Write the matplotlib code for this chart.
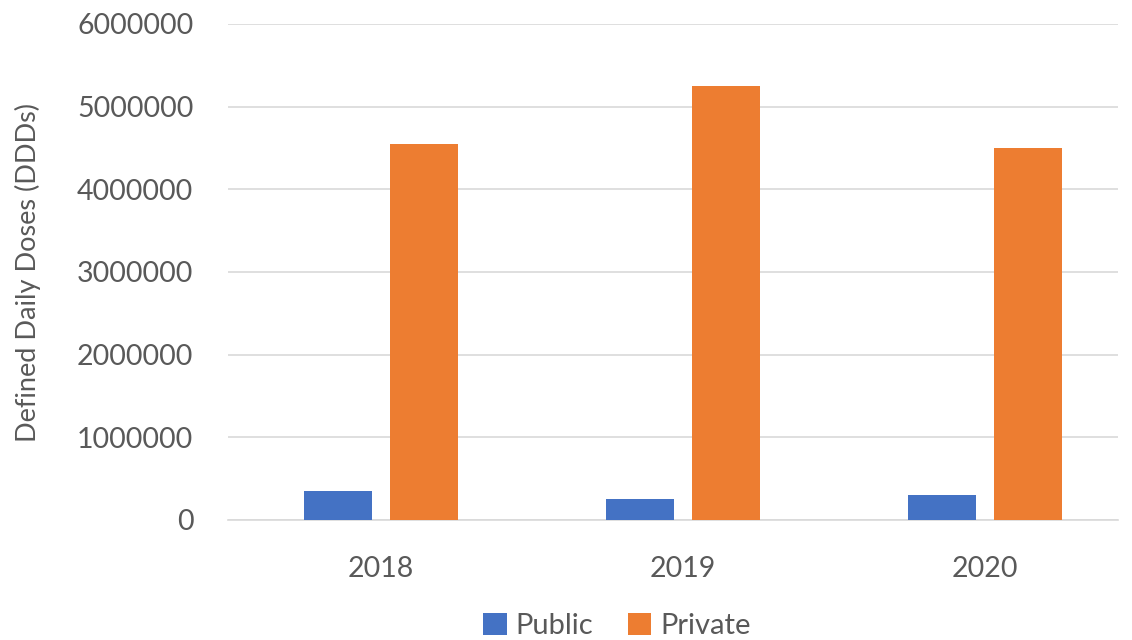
import numpy as np
import matplotlib.pyplot as plt

years = ["2018", "2019", "2020"]
public = [351000, 254000, 302000]
private = [4548000, 5250000, 4500000]

plt.rcParams['font.family'] = ['Lato', 'DejaVu Sans']
grey = "#595959"

fig = plt.figure(figsize=(11.32, 6.4), dpi=100)
ax = fig.add_axes([0.2015, 0.1875, 0.786, 0.775])

x = np.arange(len(years))
w = 0.225
ax.bar(x - 0.142, public, w, color="#4472C4", label="Public", zorder=3)
ax.bar(x + 0.142, private, w, color="#ED7D31", label="Private", zorder=3)

ax.set_xlim(-0.507, 2.44)
ax.set_ylim(0, 6000000)
ax.set_yticks(np.arange(0, 6000001, 1000000))
ax.set_yticklabels([str(v) for v in range(0, 6000001, 1000000)])
ax.set_xticks(x)
ax.set_xticklabels(years)
ax.yaxis.grid(True, color="#d9d9d9", linewidth=1.2, zorder=0)
ax.tick_params(length=0, labelsize=20.5, labelcolor=grey)
ax.tick_params(axis="y", pad=25)
ax.tick_params(axis="x", pad=26)
for s in ["top", "right", "left"]:
    ax.spines[s].set_visible(False)
ax.spines["bottom"].set_color("#d9d9d9")
ax.spines["bottom"].set_linewidth(1.2)

ax.set_ylabel("Defined Daily Doses (DDDs)", fontsize=19.5, color=grey, labelpad=26)

fig.legend(loc="lower center", bbox_to_anchor=(0.545, -0.04), ncol=2, frameon=False,
           fontsize=21, labelcolor=grey, handlelength=0.8, handleheight=0.8,
           handletextpad=0.3, columnspacing=1.2)

fig.savefig("out.png", dpi=100)
